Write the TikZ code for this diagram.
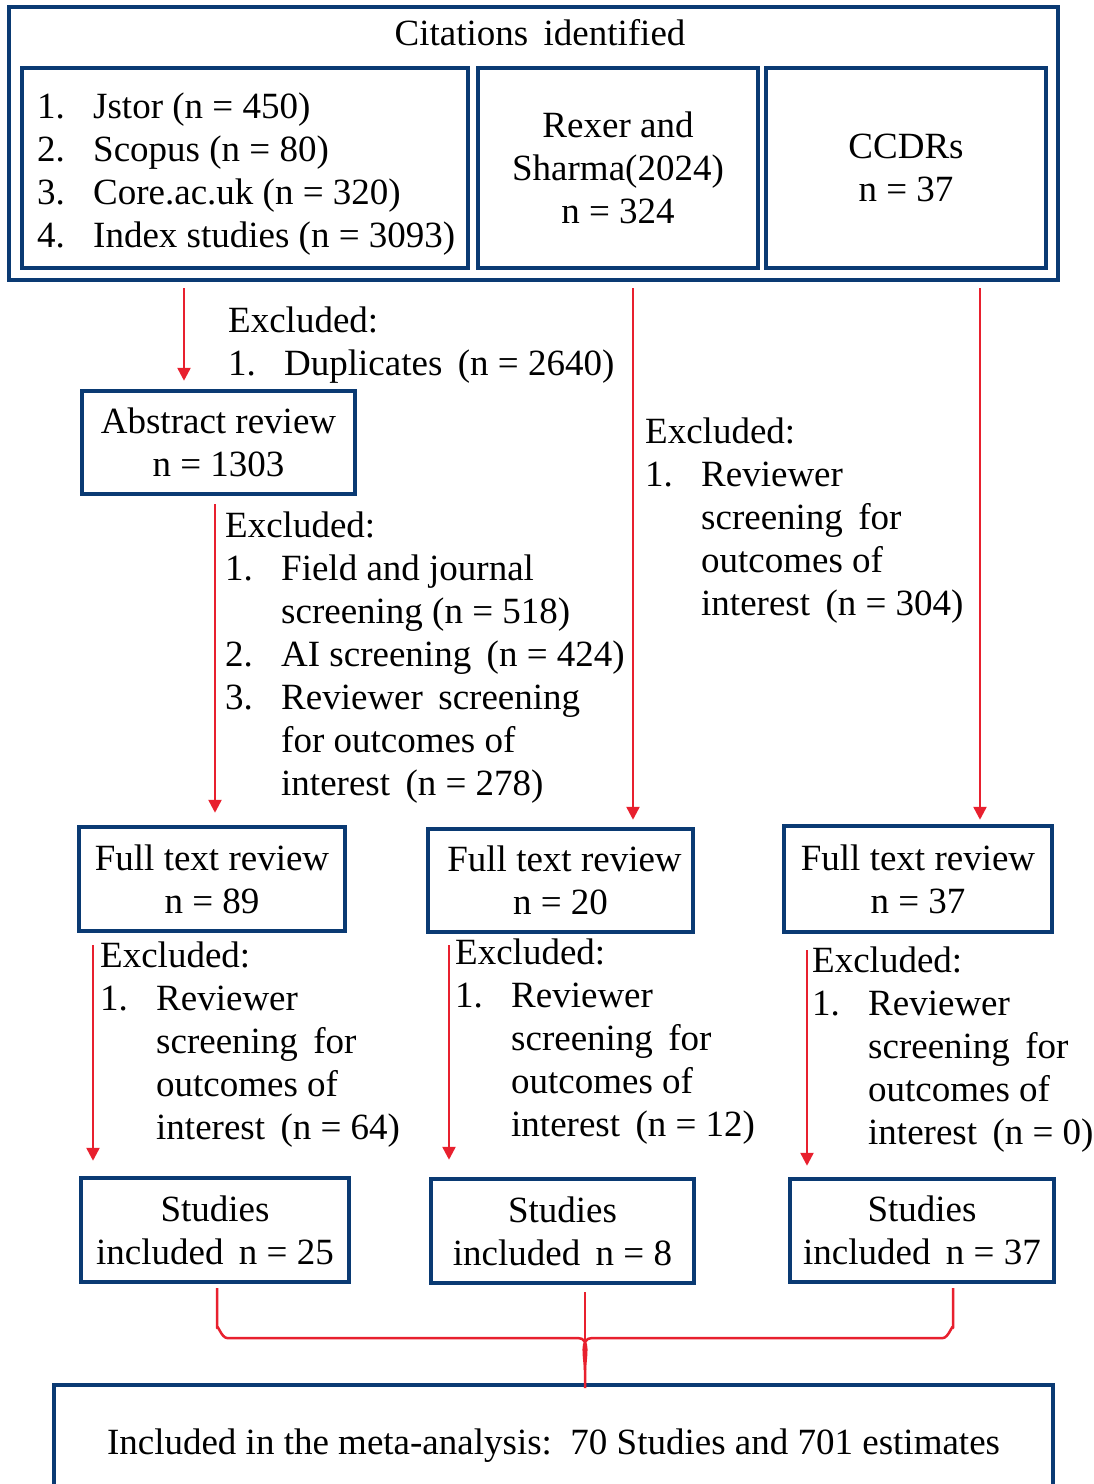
\documentclass[tikz,border=0pt]{standalone}
\usepackage{fontspec}
\setmainfont{Liberation Serif}
\usetikzlibrary{arrows.meta,calc}
\definecolor{boxblue}{RGB}{10,58,115}
\definecolor{arrred}{RGB}{232,32,46}
\newcommand\myitem[1]{\makebox[56pt][l]{#1}}
\newcommand\myind{\hspace*{56pt}}
\begin{document}
\begin{tikzpicture}[x=1pt,y=-1pt,
  every node/.style={font=\fontsize{37}{43}\selectfont, inner sep=0pt},
  box/.style={draw=boxblue, line width=4.5pt, align=center},
  lbl/.style={anchor=base west, align=left},
  arr/.style={draw=arrred, line width=2.5pt, -{Triangle[width=13pt,length=13pt]}},
  brk/.style={draw=arrred, line width=2.5pt}]
\useasboundingbox (0,0) rectangle (1093,1484);
\fill[white] (0,0) rectangle (1093,1484);

% top block
\node[box, minimum width=1049pt, minimum height=273pt] (outer) at (533.5,143.5) {};
\node[anchor=base] (title) at (540,45) {Citations\, identified};
\node[box, minimum width=446pt, minimum height=200pt] (b1) at (245,168) {};
\node[lbl] (b1t) at (37,118) {\begin{tabular}[t]{@{}l@{}}
\myitem{1.}Jstor (n = 450)\\
\myitem{2.}Scopus (n = 80)\\
\myitem{3.}Core.ac.uk (n = 320)\\
\myitem{4.}Index studies (n = 3093)\end{tabular}};
\node[box, minimum width=280pt, minimum height=200pt] (b2) at (618,168) {Rexer and\\Sharma(2024)\\n = 324};
\node[box, minimum width=280pt, minimum height=200pt] (b3) at (906,168) {CCDRs\\n = 37};

% abstract review
\node[box, minimum width=273pt, minimum height=103pt] (abs) at (218.5,442.5) {Abstract review\\n = 1303};

% full text review
\node[box, minimum width=266pt, minimum height=104pt] (ftA) at (212,879) {Full text review\\n = 89};
\node[box, minimum width=265pt, minimum height=103pt] (ftB) at (560.5,880.5) {\hspace*{8pt}Full text review\\n = 20};
\node[box, minimum width=268pt, minimum height=106pt] (ftC) at (918,879) {Full text review\\n = 37};

% studies included
\node[box, minimum width=268pt, minimum height=104pt] (siA) at (215,1230) {Studies\\included\, n = 25};
\node[box, minimum width=263pt, minimum height=104pt] (siB) at (562.5,1231) {Studies\\included\, n = 8};
\node[box, minimum width=264pt, minimum height=103pt] (siC) at (922,1230.5) {Studies\\included\, n = 37};

% meta-analysis
\node[box, minimum width=999pt, minimum height=122pt] (meta) at (553.5,1446) {Included in the meta-analysis:\, 70 Studies and 701 estimates};

% exclusion texts
\node[lbl] (x1) at (228,332) {\begin{tabular}[t]{@{}l@{}}
Excluded:\\
\myitem{1.}Duplicates\, (n = 2640)\end{tabular}};
\node[lbl] (x2) at (225,537) {\begin{tabular}[t]{@{}l@{}}
Excluded:\\
\myitem{1.}Field and journal\\
\myind screening (n = 518)\\
\myitem{2.}AI screening\, (n = 424)\\
\myitem{3.}Reviewer\, screening\\
\myind for outcomes of\\
\myind interest\, (n = 278)\end{tabular}};
\node[lbl] (x3) at (645,443) {\begin{tabular}[t]{@{}l@{}}
Excluded:\\
\myitem{1.}Reviewer\\
\myind screening\, for\\
\myind outcomes of\\
\myind interest\, (n = 304)\end{tabular}};
\node[lbl] (xA) at (100,967) {\begin{tabular}[t]{@{}l@{}}
Excluded:\\
\myitem{1.}Reviewer\\
\myind screening\, for\\
\myind outcomes of\\
\myind interest\, (n = 64)\end{tabular}};
\node[lbl] (xB) at (455,964) {\begin{tabular}[t]{@{}l@{}}
Excluded:\\
\myitem{1.}Reviewer\\
\myind screening\, for\\
\myind outcomes of\\
\myind interest\, (n = 12)\end{tabular}};
\node[lbl] (xC) at (812,972) {\begin{tabular}[t]{@{}l@{}}
Excluded:\\
\myitem{1.}Reviewer\\
\myind screening\, for\\
\myind outcomes of\\
\myind interest\, (n = 0)\end{tabular}};

% arrow x positions
\coordinate (c1) at (184,0);
\coordinate (c2) at (215,0);
\coordinate (c3) at (633,0);
\coordinate (c4) at (980,0);
\coordinate (cA) at (93,0);
\coordinate (cB) at (449,0);
\coordinate (cC) at (807,0);

\draw[arr, shorten <=6pt, shorten >=8pt] (outer.south -| c1) -- (abs.north -| c1);
\draw[arr, shorten <=8pt, shorten >=12pt] (abs.south -| c2) -- (ftA.north -| c2);
\draw[arr, shorten <=6pt, shorten >=7pt] (outer.south -| c3) -- (ftB.north -| c3);
\draw[arr, shorten <=6pt, shorten >=4pt] (outer.south -| c4) -- (ftC.north -| c4);
\draw[arr, shorten <=12pt, shorten >=15pt] (ftA.south -| cA) -- (siA.north -| cA);
\draw[arr, shorten <=11pt, shorten >=17pt] (ftB.south -| cB) -- (siB.north -| cB);
\draw[arr, shorten <=16pt, shorten >=11pt] (ftC.south -| cC) -- (siC.north -| cC);

% bracket
\coordinate (kL) at (217,1288);
\coordinate (kR) at (953,1288);
\coordinate (kM) at (585,1292);
\coordinate (kT) at (585,1388);
\draw[brk, line join=round] (kL) -- (217,1328) to[out=90,in=180] (227,1338) -- (578,1338)
  to[out=0,in=90] (585,1370) -- (kT);
\draw[brk, line join=round] (kR) -- (953,1328) to[out=90,in=0] (943,1338) -- (592,1338)
  to[out=180,in=90] (585,1370);
\draw[brk] (kM) -- (kT);
\end{tikzpicture}
\end{document}
